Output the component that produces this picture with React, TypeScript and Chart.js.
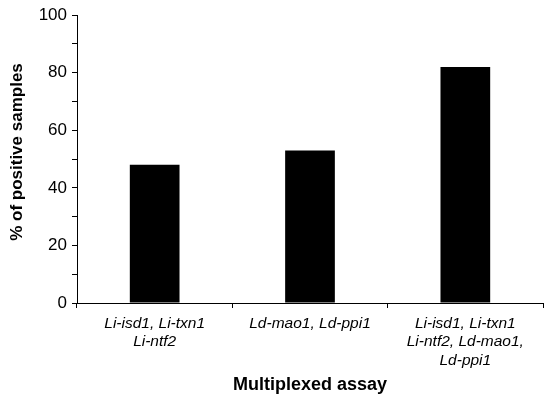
import React, { useEffect, useRef } from "react";
import { Chart, registerables } from "chart.js";

Chart.register(...registerables);

const categories: string[][] = [
  ["Li-isd1, Li-txn1", "Li-ntf2"],
  ["Ld-mao1, Ld-ppi1"],
  ["Li-isd1, Li-txn1", "Li-ntf2, Ld-mao1,", "Ld-ppi1"],
];
const positivePercent: number[] = [48, 53, 82];
const yTicks: number[] = [0, 20, 40, 60, 80, 100];

const FONT = "'Liberation Sans', Arial, sans-serif";

export default function App() {
  const ref = useRef<HTMLCanvasElement | null>(null);

  useEffect(() => {
    if (!ref.current) return;
    const chart = new Chart(ref.current, {
      type: "bar",
      data: {
        labels: categories,
        datasets: [
          {
            data: positivePercent,
            backgroundColor: "#000000",
            borderWidth: 0,
            categoryPercentage: 1,
            barPercentage: 0.32,
          },
        ],
      },
      options: {
        responsive: false,
        animation: false,
        layout: { padding: { top: 13, right: 7, left: 0, bottom: 0 } },
        plugins: {
          legend: { display: false },
          tooltip: { enabled: false },
          title: { display: false },
        },
        scales: {
          x: {
            offset: true,
            grid: {
              offset: true,
              drawOnChartArea: false,
              drawTicks: true,
              tickLength: 5,
              tickColor: "#000",
              color: "#000",
            },
            border: { display: true, color: "#000", width: 1 },
            ticks: {
              color: "#000",
              padding: 6,
              maxRotation: 0,
              autoSkip: false,
              font: { family: FONT, size: 15.5, style: "italic", lineHeight: 1.2 },
            },
            title: {
              display: true,
              text: "Multiplexed assay",
              color: "#000",
              font: { family: FONT, size: 18, weight: "bold" },
              padding: { top: 0, bottom: 7 },
            },
            afterFit: (scale: any) => {
              scale.height = 100;
            },
          },
          y: {
            min: 0,
            max: 100,
            grid: {
              drawOnChartArea: false,
              drawTicks: true,
              tickLength: 5,
              tickColor: "#000",
              color: "#000",
            },
            border: { display: true, color: "#000", width: 1 },
            ticks: {
              stepSize: 10,
              color: "#000",
              padding: 5,
              font: { family: FONT, size: 17 },
              callback: (v: any) => (yTicks.includes(Number(v)) ? String(v) : ""),
            },
            title: {
              display: true,
              text: "   % of positive samples",
              color: "#000",
              font: { family: FONT, size: 17, weight: "bold" },
              padding: { top: 7, bottom: 0 },
            },
            afterFit: (scale: any) => {
              scale.width = 77;
            },
          },
        },
      },
    });
    return () => chart.destroy();
  }, []);

  return (
    <div style={{ position: "absolute", left: 0, top: 0, width: 550, height: 403, background: "#fff" }}>
      <canvas ref={ref} width={550} height={403} />
    </div>
  );
}
